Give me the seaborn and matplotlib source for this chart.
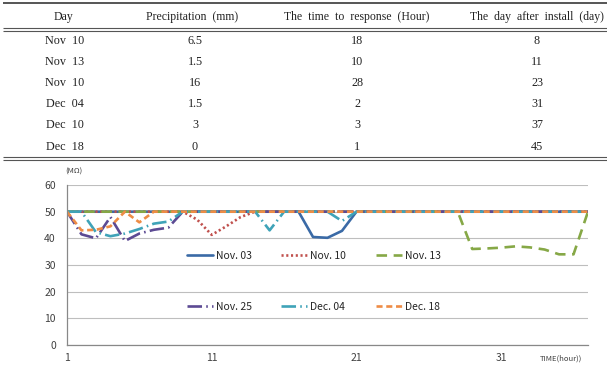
import matplotlib
matplotlib.use("Agg")
import matplotlib.pyplot as plt
import seaborn as sns

sns.set_theme(style="white")
plt.rcParams['font.family'] = ['Noto Sans CJK KR', 'DejaVu Sans']

# Table data
col_names = ["Day", "Precipitation  (mm)", "The  time  to  response  (Hour)", "The  day  after  install  (day)"]
day_names = ["Nov  10", "Nov  13", "Nov  10", "Dec  04", "Dec  10", "Dec  18"]
precip = ["6.5", "1.5", "16", "1.5", "3", "0"]
response = ["18", "10", "28", "2", "3", "1"]
after_install = ["8", "11", "23", "31", "37", "45"]

# Chart data (resistance in MOhm per hour)
hours = list(range(1, 38))
nov03 = [50, 50, 50, 50, 50, 50, 50, 50, 50, 50,
         50, 50, 50, 50, 50, 50, 50, 40.5, 40.2, 42.8,
         50, 50, 50, 50, 50, 50, 50, 50, 50, 50,
         50, 50, 50, 50, 50, 50, 50]
nov10 = [50, 50, 50, 50, 50, 50, 50, 50, 50, 47,
         41.3, 44.5, 48, 50, 50, 50, 50, 50, 50, 50,
         50, 50, 50, 50, 50, 50, 50, 50, 50, 50,
         50, 50, 50, 50, 50, 50, 50]
nov13 = [50, 50, 50, 50, 50, 50, 50, 50, 50, 50,
         50, 50, 50, 50, 50, 50, 50, 50, 50, 50,
         50, 50, 50, 50, 50, 50, 50, 50, 36, 36.2,
         36.5, 37, 36.6, 35.8, 34, 34, 50]
nov25 = [50, 41.5, 40, 48, 39, 41.8, 43.2, 44, 50, 50,
         50, 50, 50, 50, 50, 50, 50, 50, 50, 50,
         50, 50, 50, 50, 50, 50, 50, 50, 50, 50,
         50, 50, 50, 50, 50, 50, 50]
dec04 = [50, 50, 42.3, 40.8, 41.8, 43.5, 45.5, 46.3, 50, 50,
         50, 50, 50, 50, 43, 50, 50, 50, 50, 46.5,
         50, 50, 50, 50, 50, 50, 50, 50, 50, 50,
         50, 50, 50, 50, 50, 50, 50]
dec18 = [50, 43, 43.2, 44.5, 50, 46, 50, 50, 50, 50,
         50, 50, 50, 50, 50, 50, 50, 50, 50, 50,
         50, 50, 50, 50, 50, 50, 50, 50, 50, 50,
         50, 50, 50, 50, 50, 50, 50]

series_labels = ["Nov. 03", "Nov. 10", "Nov. 13", "Nov. 25", "Dec. 04", "Dec. 18"]
series_values = [nov03, nov10, nov13, nov25, dec04, dec18]
colors = ["#3A6AA6", "#C0504D", "#86A846", "#5C4A93", "#3FA3B8", "#EE8C45"]
styles = ["-", (0, (0.8, 1.0)), (0, (4, 2.5)), (0, (5.5, 1.6, 0.6, 1.6)),
          (0, (5.5, 1.6, 0.6, 1.6)), (0, (2.3, 1.4))]

fig = plt.figure(figsize=(6.07, 3.73), dpi=100)

# Table on top, drawn in pixel coordinates
tab = fig.add_axes([0, 1 - 165 / 373, 1, 165 / 373])
tab.set_xlim(0, 607)
tab.set_ylim(165, 0)
tab.axis("off")
serif = "Liberation Serif"
col_x = [63, 192, 357, 537]
for x, name in zip(col_x, col_names):
    tab.text(x, 17, name, ha="center", va="center", fontsize=8.5, family=serif, color="#222222")
row_y = [41, 62, 83, 104, 125, 147]
for i, y in enumerate(row_y):
    vals = [day_names[i], precip[i], response[i], after_install[i]]
    xs = [65, 195, 357, 537]
    for x, v in zip(xs, vals):
        tab.text(x, y, v, ha="center", va="center", fontsize=8.7, family=serif, color="#222222")
for y, lw in [(2.5, 1.4), (28, 0.8), (31, 0.8), (157, 0.8), (159.5, 0.8)]:
    tab.plot([3, 607], [y, y], color="#555555", lw=lw, solid_capstyle="butt")

# Line chart
ax = fig.add_axes([67 / 607, 1 - 345 / 373, (588 - 67) / 607, (345 - 185) / 373])
for lab, vals, c, ls in zip(series_labels, series_values, colors, styles):
    sns.lineplot(x=hours, y=vals, ax=ax, color=c, linestyle=ls, lw=1.9, label=lab)

ax.set_xlim(1, 37)
ax.set_ylim(0, 60)
ax.set_yticks(range(0, 61, 10))
ax.set_xticks(hours)
ax.set_xticklabels([str(h) if (h - 1) % 10 == 0 else "" for h in hours])
ax.grid(axis="y", color="#BEBEBE", lw=0.8)
ax.set_axisbelow(True)
for side in ["top", "right"]:
    ax.spines[side].set_visible(False)
for side in ["left", "bottom"]:
    ax.spines[side].set_color("#888888")
    ax.spines[side].set_linewidth(0.9)
ax.tick_params(axis="both", direction="out", length=3, width=0.8, color="#888888",
               labelsize=7.5, labelcolor="#404040", pad=3)
ax.tick_params(axis="y", pad=5)

# legend fills column by column, so reorder to get the rows right
handles, labels = ax.get_legend_handles_labels()
order = [0, 3, 1, 4, 2, 5]
ax.legend([handles[i] for i in order], [labels[i] for i in order],
          ncol=3, loc="upper left", bbox_to_anchor=(187 / 607, 1 - 251 / 373),
          bbox_transform=fig.transFigure, frameon=False, fontsize=7.5,
          handlelength=2.5, handletextpad=0.3, columnspacing=2.8,
          labelspacing=3.9, borderpad=0, borderaxespad=0)

fig.text(65 / 607, 1 - 172 / 373, "(MΩ)", fontsize=5.5, color="#404040", va="center")
fig.text(540 / 607, 1 - 359 / 373, "TIME(hour))", fontsize=5.5, color="#404040", va="center")

fig.savefig("out.png", dpi=100)
